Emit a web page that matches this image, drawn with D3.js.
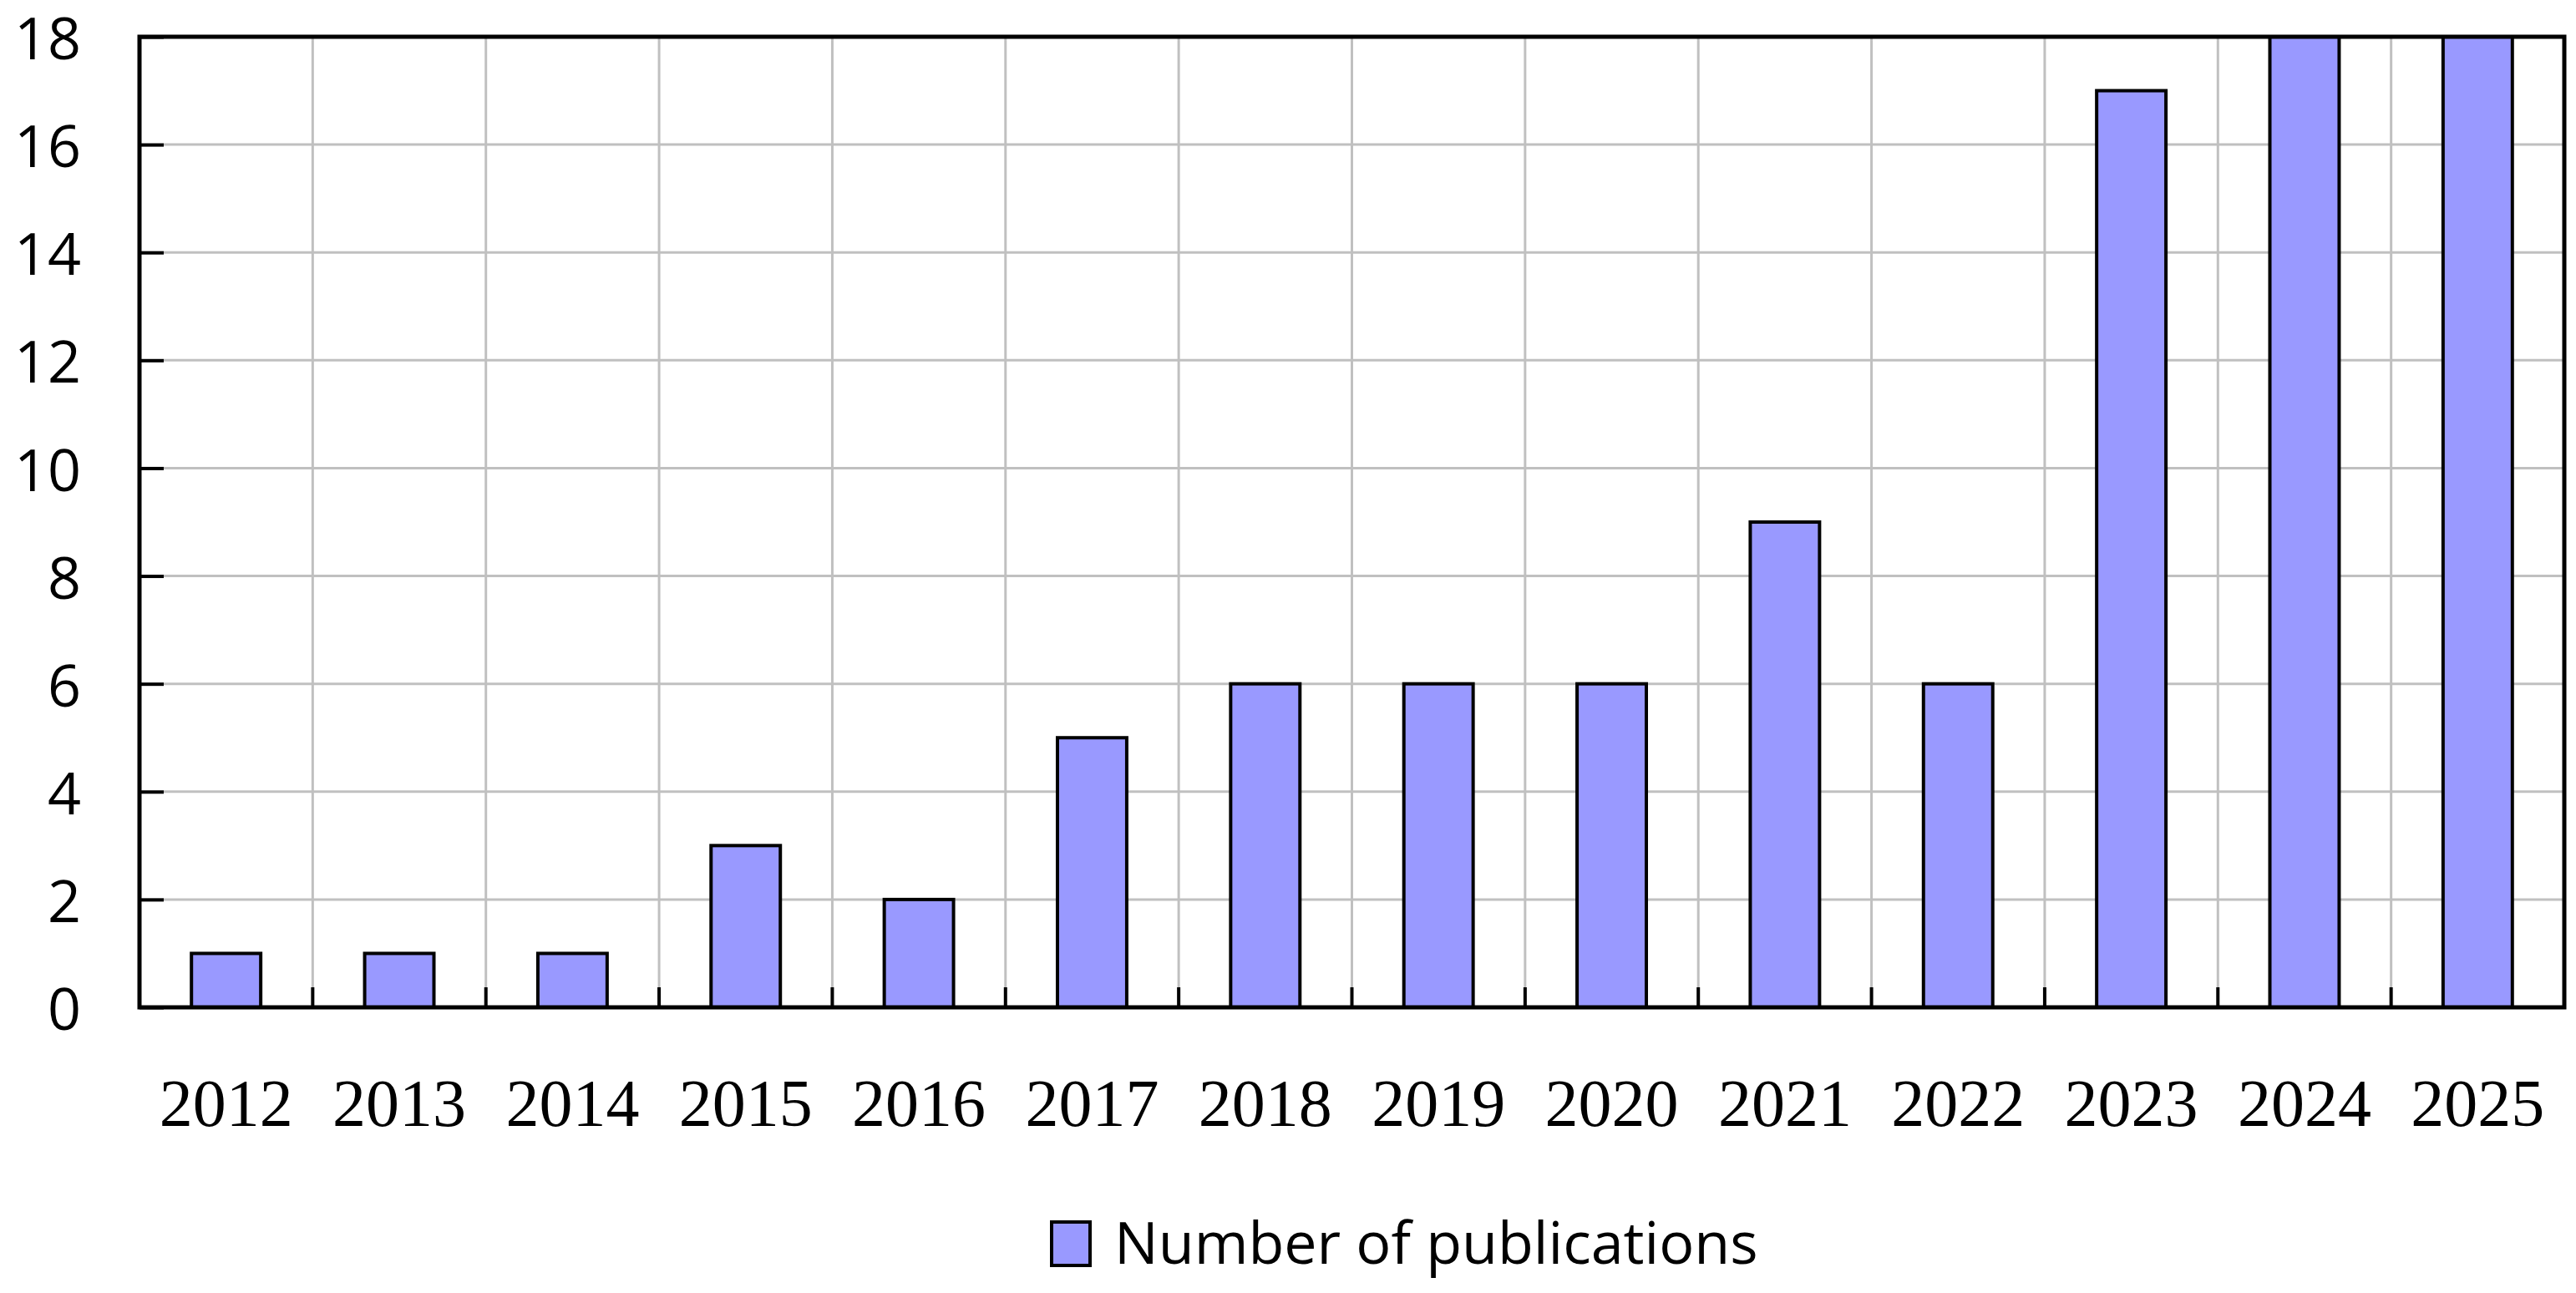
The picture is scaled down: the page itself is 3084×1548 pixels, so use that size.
<!DOCTYPE html>
<html>
<head>
<meta charset="utf-8">
<script src="https://cdn.jsdelivr.net/npm/d3@7"></script>
<style>
  body { margin: 0; background: #fff; }
</style>
</head>
<body>
<svg id="chart"></svg>
<script>
// data
const years = ["2012","2013","2014","2015","2016","2017","2018","2019","2020","2021","2022","2023","2024","2025"];
const publications = [1, 1, 1, 3, 2, 5, 6, 6, 6, 9, 6, 17, 18, 18];
const yTicks = [0, 2, 4, 6, 8, 10, 12, 14, 16, 18];
const seriesName = "Number of publications";

const width = 3084, height = 1548;
const margin = {top: 44, right: 14, bottom: 342, left: 167};

const svg = d3.select("#chart")
   .attr("width", width)
   .attr("height", height);

const x = d3.scaleBand()
   .domain(years)
   .range([margin.left, width - margin.right])
   .paddingInner(0).paddingOuter(0);

const y = d3.scaleLinear()
   .domain([0, 18])
   .range([height - margin.bottom, margin.top]);

svg.append("clipPath").attr("id", "plotclip")
   .append("rect")
   .attr("x", margin.left).attr("y", margin.top)
   .attr("width", width - margin.left - margin.right)
   .attr("height", height - margin.top - margin.bottom);

// grid lines
const grid = svg.append("g");
grid.selectAll("line.h")
   .data(yTicks.slice(1, -1))
   .enter().append("line")
      .attr("x1", margin.left).attr("x2", width - margin.right)
      .attr("y1", d => y(d)).attr("y2", d => y(d))
      .attr("stroke", "#c0c0c0").attr("stroke-width", 3);
grid.selectAll("line.v")
   .data(years.slice(1))
   .enter().append("line")
      .attr("x1", d => x(d)).attr("x2", d => x(d))
      .attr("y1", margin.top).attr("y2", height - margin.bottom)
      .attr("stroke", "#c0c0c0").attr("stroke-width", 3);

// bars
const barW = x.bandwidth() * 0.4;
svg.append("g").attr("clip-path", "url(#plotclip)")
   .selectAll("rect")
   .data(publications)
   .enter().append("rect")
      .attr("x", (d, i) => x(years[i]) + (x.bandwidth() - barW) / 2)
      .attr("y", d => y(d))
      .attr("width", barW)
      .attr("height", d => y(0) - y(d))
      .attr("fill", "#9999ff")
      .attr("stroke", "#000")
      .attr("stroke-width", 4);

// y axis ticks (inward) and labels
const yAxis = d3.axisLeft(y).tickValues(yTicks).tickSize(-29).tickPadding(70);
const gy = svg.append("g")
   .attr("transform", `translate(${margin.left},0)`)
   .call(yAxis);
gy.select(".domain").remove();
gy.selectAll(".tick line").attr("stroke", "#000").attr("stroke-width", 4);
gy.selectAll(".tick text")
   .attr("font-family", "'Open Sans', sans-serif")
   .attr("font-size", 70)
   .attr("dy", "0.38em")
   .attr("fill", "#000");

// x axis ticks (inward) at category boundaries
const gx = svg.append("g");
gx.selectAll("line")
   .data(years.slice(1))
   .enter().append("line")
      .attr("x1", d => x(d)).attr("x2", d => x(d))
      .attr("y1", y(0)).attr("y2", y(0) - 24)
      .attr("stroke", "#000").attr("stroke-width", 4);
gx.selectAll("text")
   .data(years)
   .enter().append("text")
      .attr("x", d => x(d) + x.bandwidth() / 2)
      .attr("y", 1348)
      .attr("text-anchor", "middle")
      .attr("font-family", "'Liberation Serif', 'Times New Roman', serif")
      .attr("font-size", 80)
      .attr("fill", "#000")
      .text(d => d);

// plot frame
svg.append("rect")
   .attr("x", margin.left).attr("y", margin.top)
   .attr("width", width - margin.left - margin.right)
   .attr("height", height - margin.top - margin.bottom)
   .attr("fill", "none")
   .attr("stroke", "#000")
   .attr("stroke-width", 5);

// legend
const legend = svg.append("g");
legend.append("rect")
   .attr("x", 1259).attr("y", 1463)
   .attr("width", 46).attr("height", 52)
   .attr("fill", "#9999ff")
   .attr("stroke", "#000")
   .attr("stroke-width", 4);
legend.append("text")
   .attr("x", 1334).attr("y", 1513)
   .attr("font-family", "'Open Sans', sans-serif")
   .attr("font-size", 70)
   .attr("fill", "#000")
   .text(seriesName);
</script>
</body>
</html>
